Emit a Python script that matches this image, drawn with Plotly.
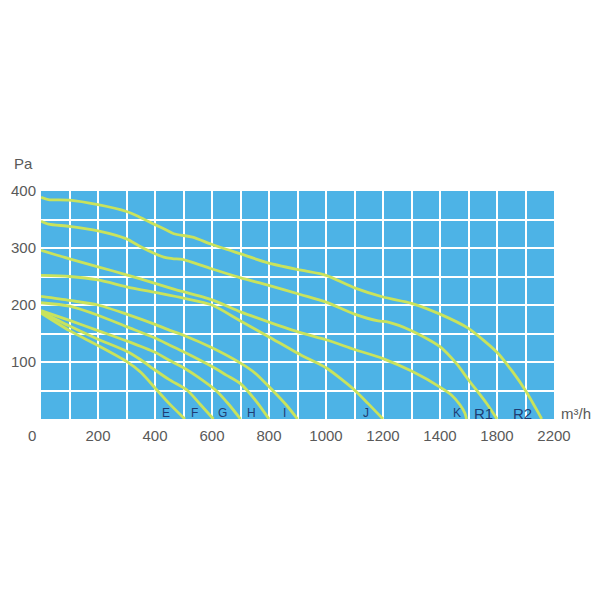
import numpy as np
import plotly.graph_objects as go

# ---- data (flow in m3/h, pressure in Pa) ----
curve_names = ["R2", "R1", "K", "J", "I", "H", "G", "F", "E"]

r2_flow = [0, 26, 100, 200, 300, 343, 400, 438, 466, 532, 596, 698, 796, 913, 1000, 1100, 1200, 1300, 1400, 1600, 1725, 1800, 1909, 2000, 2072, 2114]
r2_pa = [389, 385, 384, 376, 364, 355, 341, 332, 325, 319, 307, 290, 274, 261, 252, 230, 214, 203, 184, 159, 134, 117, 83, 50, 19, 0]

r1_flow = [0, 26, 100, 200, 300, 343, 400, 438, 466, 496, 596, 698, 796, 913, 1000, 1100, 1183, 1218, 1300, 1400, 1516, 1602, 1725, 1800]
r1_pa = [347, 342, 338, 330, 316, 304, 290, 283, 281, 280, 264, 248, 235, 218, 205, 184, 172, 170, 155, 127, 97, 68, 28, 0]

k_flow = [0, 100, 200, 300, 400, 466, 600, 700, 800, 913, 1000, 1100, 1200, 1300, 1400, 1480, 1540, 1575, 1586]
k_pa = [296, 281, 267, 253, 238, 228, 209, 188, 170, 151, 139, 122, 106, 84, 56, 42, 25, 10, 0]

j_flow = [0, 100, 200, 300, 400, 500, 600, 700, 800, 913, 1000, 1100, 1148, 1200]
j_pa = [252, 250, 244, 232, 222, 212, 200, 172, 144, 112, 90, 51, 27, 0]

i_flow = [0, 100, 200, 300, 400, 450, 500, 600, 700, 750, 813, 860, 900]
i_pa = [215, 208, 200, 184, 166, 156, 147, 125, 98, 81, 50, 25, 0]

h_flow = [0, 100, 200, 300, 400, 450, 500, 600, 650, 700, 760, 800]
h_pa = [204, 198, 182, 162, 142, 130, 118, 92, 77, 62, 28, 0]

g_flow = [0, 100, 200, 300, 400, 450, 500, 550, 614, 660, 700]
g_pa = [190, 173, 155, 137, 117, 103, 90, 74, 50, 25, 0]

f_flow = [0, 100, 200, 300, 350, 400, 450, 514, 560, 605]
f_pa = [188, 163, 140, 119, 104, 86, 69, 50, 25, 0]

e_flow = [0, 100, 200, 300, 350, 408, 450, 505]
e_pa = [186, 155, 129, 101, 82, 50, 27, 0]

curve_flows = [r2_flow, r1_flow, k_flow, j_flow, i_flow, h_flow, g_flow, f_flow, e_flow]
curve_pas = [r2_pa, r1_pa, k_pa, j_pa, i_pa, h_pa, g_pa, f_pa, e_pa]

# label anchor flows for the curve names
label_flow = [1981, 1702, 1521, 1142, 853, 740, 637, 537, 438]

# x-axis: the printed scale is 100 m3/h per column up to 1400, then 200 per column
scale_flow = [0, 1400, 2200]
scale_pos = [0, 1400, 1800]
x_tick_flows = list(range(0, 1500, 100)) + [1600, 1800, 2000, 2200]
x_tick_labels = ["", "", "200", "", "400", "", "600", "", "800", "", "1000", "", "1200", "", "1400",
                 "", "1800", "", "2200"]
y_tick_vals = [0, 50, 100, 150, 200, 250, 300, 350, 400]
y_tick_labels = ["", "", "100", "", "200", "", "300", "", "400"]


def to_axis(flow):
    return np.interp(flow, scale_flow, scale_pos)


CURVE = "#C9E35C"
BG = "#4DB3E6"
NAVY = "#1F3D73"
GREY = "#595959"
FONT = "Liberation Sans, Arial, sans-serif"

fig = go.Figure()
for name, fl, pa in zip(curve_names, curve_flows, curve_pas):
    fig.add_trace(go.Scatter(
        x=to_axis(fl), y=pa, mode="lines", name=name,
        line=dict(color=CURVE, width=2.8, shape="spline", smoothing=0.7),
        hoverinfo="skip",
    ))

annotations = []
for name, lf in zip(curve_names, label_flow):
    big = name.startswith("R")
    annotations.append(dict(
        x=float(to_axis(lf)), y=10, xref="x", yref="y", text=name, showarrow=False,
        font=dict(family=FONT, size=15 if big else 12, color=NAVY),
        xanchor="center", yanchor="middle",
    ))

annotations += [
    dict(x=0, y=1, xref="paper", yref="paper", text="Pa", showarrow=False,
         xanchor="center", yanchor="middle", xshift=-18, yshift=28,
         font=dict(family=FONT, size=15, color=GREY)),
    dict(x=1, y=0, xref="paper", yref="paper", text="m³/h", showarrow=False,
         xanchor="left", yanchor="middle", xshift=5, yshift=6,
         font=dict(family=FONT, size=15, color=GREY)),
    dict(x=0, y=0, xref="paper", yref="paper", text="0", showarrow=False,
         xanchor="center", yanchor="middle", xshift=-9, yshift=-16,
         font=dict(family=FONT, size=15, color=GREY)),
]

fig.update_layout(
    width=600, height=600,
    margin=dict(l=33, r=54, t=183, b=189, autoexpand=False),
    plot_bgcolor=BG, paper_bgcolor="white",
    showlegend=False,
    annotations=annotations,
    font=dict(family=FONT, size=15, color=GREY),
    xaxis=dict(
        range=[0, 1800], tickmode="array",
        tickvals=[float(v) for v in to_axis(x_tick_flows)], ticktext=x_tick_labels,
        showgrid=True, gridcolor="white", gridwidth=2,
        zeroline=False, showline=False, ticks="", ticklabelstandoff=6,
        tickfont=dict(family=FONT, size=15, color=GREY),
    ),
    yaxis=dict(
        range=[0, 400], tickmode="array",
        tickvals=y_tick_vals, ticktext=y_tick_labels,
        showgrid=True, gridcolor="white", gridwidth=2,
        zeroline=False, showline=False, ticks="", ticklabelstandoff=4,
        tickfont=dict(family=FONT, size=15, color=GREY),
    ),
)

fig.write_html("out.html")
